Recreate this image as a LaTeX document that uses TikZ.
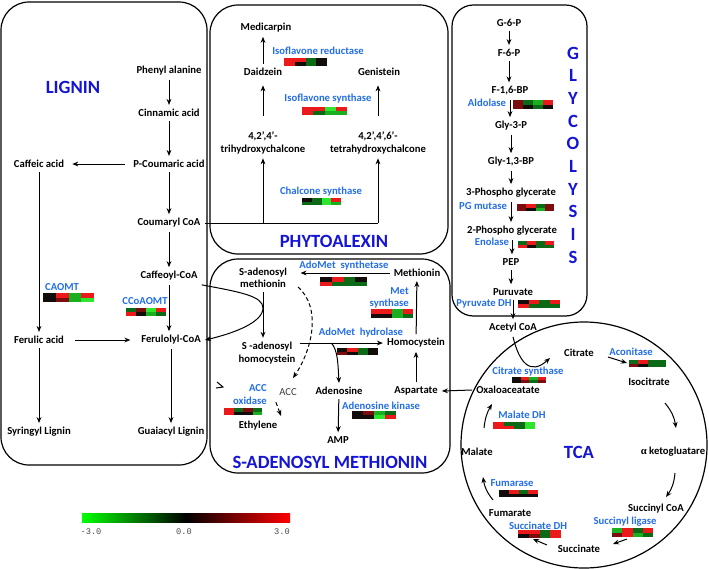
\documentclass[tikz,border=0pt]{standalone}
\usepackage{fontspec}
\setmainfont{Carlito}
\newfontfamily\greekserif{Liberation Serif}
\newfontfamily\barmono{Liberation Mono}
\usetikzlibrary{arrows.meta,calc}
\definecolor{hR}{RGB}{235,25,25}
\definecolor{hDR}{RGB}{125,12,12}
\definecolor{hK}{RGB}{18,12,10}
\definecolor{hG}{RGB}{25,175,30}
\definecolor{hDG}{RGB}{12,105,22}
\definecolor{hLG}{RGB}{45,230,45}
\definecolor{enzblue}{RGB}{35,110,230}
\definecolor{ttlblue}{RGB}{20,20,215}
\newcommand\hmap[6]{%
  \foreach \cc [count=\ii from 0] in {#5} {\fill[fill=\cc] ({#1+\ii*#3/4},{#2}) rectangle ({#1+(\ii+1)*#3/4},{#2+#4/2});}%
  \foreach \cc [count=\ii from 0] in {#6} {\fill[fill=\cc] ({#1+\ii*#3/4},{#2+#4/2}) rectangle ({#1+(\ii+1)*#3/4},{#2+#4});}%
}
\tikzset{
  mtb/.style={font=\bfseries\fontsize{8}{9.5}\selectfont, align=center, inner sep=3pt},
  enz/.style={font=\bfseries\fontsize{8}{9}\selectfont, text=enzblue, inner sep=0pt, align=center},
  arr/.style={-{Stealth[length=4.5pt,width=3.6pt]}, line width=0.75pt},
  panel/.style={draw, line width=0.9pt, rounded corners=21pt},
  ttl/.style={font=\bfseries\fontsize{14}{16}\selectfont, text=ttlblue, inner sep=0pt},
  dsh/.style={dash pattern=on 3pt off 2pt},
}
\begin{document}
\begin{tikzpicture}[x=0.75pt,y=-0.75pt]
\useasboundingbox (0,0) rectangle (709,568);

% ---------- panels ----------
\draw[panel] (1,2) rectangle (207,465);
\draw[panel] (210,5) rectangle (448,254);
\draw[panel] (210,259) rectangle (450,473);
\draw[panel, rounded corners=16pt] (452,5) rectangle (587,316);
\draw[line width=0.9pt] (584,445) circle (123);

% ---------- titles ----------
\node[ttl] (tlig) at (73,87) {LIGNIN};
\node[ttl] (tphy) at (334,241) {PHYTOALEXIN};
\node[ttl] (tsam) at (330,462) {S-ADENOSYL METHIONIN};
\node[ttl] (ttca) at (579,452) {TCA};
\foreach \ch [count=\k from 0] in {G,L,Y,C,O,L,Y,S,I,S}
  \node[ttl] (tg\k) at (573,{53+\k*22.7}) {\ch};

% ---------- LIGNIN ----------
\node[mtb] (phe) at (169,71) {Phenyl alanine};
\node[mtb] (cin) at (169,113) {Cinnamic acid};
\node[mtb] (pcou) at (169,164) {P-Coumaric acid};
\node[mtb] (caf) at (39,164) {Caffeic acid};
\node[mtb] (cou) at (169,223) {Coumaryl CoA};
\node[mtb] (cafc) at (169,276) {Caffeoyl-CoA};
\node[mtb] (fer) at (39,340) {Ferulic acid};
\node[mtb] (ferc) at (171,340) {Ferulolyl-CoA};
\node[mtb] (syr) at (39,432) {Syringyl Lignin};
\node[mtb] (gua) at (171,432) {Guaiacyl Lignin};
\draw[arr] (phe) -- (cin);
\draw[arr] (cin) -- (pcou);
\draw[arr, shorten <=3pt, shorten >=3pt] (pcou) -- (caf);
\draw[arr] (pcou) -- (cou);
\draw[arr] (cou) -- (cafc);
\draw[arr] (caf) -- (fer);
\draw[arr] (cafc.south) -- (cafc.south |- ferc.north);
\draw[arr, shorten <=5pt, shorten >=5pt] (fer) -- (ferc);
\draw[arr] (fer) -- (syr);
\draw[arr] (ferc) -- (gua);
\node[enz] (caomt) at (62,287) {CAOMT};
\hmap{43}{293}{51}{9}{hK,hR,hG,hR}{hK,hDR,hG,hLG}
\node[enz] (ccoaomt) at (145,301) {CCoAOMT};
\hmap{126}{308}{40}{8}{hDG,hDR,hLG,hR}{hR,hK,hG,hDG}

% ---------- PHYTOALEXIN ----------
\node[mtb] (med) at (266,28) {Medicarpin};
\node[mtb] (dai) at (263,72) {Daidzein};
\node[mtb] (gen) at (379,72) {Genistein};
\node[mtb] (tri) at (263,143) {4,2',4'-\\trihydroxychalcone};
\node[mtb] (tet) at (378,143) {4,2',4',6'-\\tetrahydroxychalcone};
\draw[arr] (dai.north) -- (dai.north |- med.south);
\draw[arr, shorten <=9pt, shorten >=4pt] (tri.north) -- (tri.north |- dai.south);
\draw[arr, shorten <=9pt, shorten >=4pt] (tet.north) -- (tet.north |- gen.south);
\coordinate (jt) at (tri.south |- cou.east);
\coordinate (jr) at (tet.south |- cou.east);
\draw[line width=0.75pt] (cou.east) -- (jr);
\draw[arr] (jt) -- (tri.south);
\draw[arr] (jr) -- (tet.south);
\node[enz] (ifr) at (318,51) {Isoflavone reductase};
\hmap{284}{58}{43}{8}{hR,hR,hDG,hK}{hR,hK,hDG,hK}
\node[enz] (ifs) at (328,99) {Isoflavone synthase};
\hmap{302}{107}{45}{8}{hR,hR,hLG,hR}{hR,hDG,hG,hG}
\node[enz] (chs) at (321,192) {Chalcone synthase};
\hmap{302}{198}{39}{7}{hK,hDG,hLG,hR}{hDG,hDG,hLG,hG}

% ---------- S-ADENOSYL METHIONIN ----------
\node[mtb, font=\bfseries\fontsize{8}{9}\selectfont] (sam) at (263,278) {S-adenosyl\\methionin};
\node[mtb, font=\bfseries\fontsize{8}{9.5}\selectfont] (sah) at (267,353) {S -adenosyl\\homocystein};
\node[mtb] (met) at (417,273) {Methionin};
\node[mtb] (hcy) at (416,343) {Homocystein};
\node[mtb] (ado) at (339,391) {Adenosine};
\node[mtb] (asp) at (416,391) {Aspartate};
\node[mtb] (amp) at (338,440) {AMP};
\node[mtb, font=\fontsize{8}{9.5}\selectfont, text=black!75] (acc) at (288,392) {ACC};
\node[mtb] (eth) at (258,426) {Ethylene};
\draw[arr, shorten >=7pt] (met.west) -- (met.west -| sam.east);
\draw[arr] (sam.south) -- (sam.south |- sah.north);
\coordinate (sahout) at (sah.east |- hcy.west);
\draw[arr] (sahout) -- (hcy.west);
\coordinate (brk) at ($(sahout)!0.38!(hcy.west)$);
\draw[arr] (brk) .. controls (338,350) and (338,365) .. (ado.north);
\draw[arr] (hcy) -- (met);
\draw[arr] (asp) -- (hcy);
\draw[arr] (ado) -- (amp);
\coordinate (samd) at (298,287);
\coordinate (accin) at (293,378);
\draw[arr, dsh] (samd) .. controls (322,308) and (312,350) .. (accin);
\draw[arr, dsh, shorten <=2pt, shorten >=1pt] (acc.south west) -- (eth.north east);
\draw[arr] (cafc.south east) .. controls (240,292) and (263,296) .. (263,308)
   .. controls (263,322) and (235,333) .. (ferc.east);
\draw[line width=0.75pt] (217,382) -- (223,387) -- (216,388);
\node[enz] (adosyn) at (344,266) {AdoMet~ synthetase};
\hmap{320}{277}{47}{9}{hK,hR,hDG,hK}{hR,hDG,hDG,hDG}
\node[enz, align=right, anchor=east] (metsyn) at (409,298) {Met\\synthase};
\hmap{371}{309}{42}{9}{hR,hR,hG,hR}{hK,hK,hG,hDG}
\node[enz] (adohyd) at (361,333) {AdoMet~ hydrolase};
\hmap{337}{348}{41}{7}{hK,hR,hDG,hK}{hDR,hK,hDG,hK}
\node[enz, align=right, anchor=east, font=\bfseries\fontsize{8}{9.75}\selectfont] (accox) at (267,395) {ACC\\oxidase};
\hmap{224}{408}{38}{7}{hR,hDG,hDR,hDG}{hR,hK,hK,hG}
\node[enz] (adok) at (381,406) {Adenosine kinase};
\hmap{352}{411}{44}{8}{hK,hDR,hG,hDG}{hK,hK,hLG,hR}

% ---------- GLYCOLYSIS ----------
\node[mtb] (g6p) at (509,23) {G-6-P};
\node[mtb] (f6p) at (509,53) {F-6-P};
\node[mtb] (f16) at (510,91) {F-1,6-BP};
\node[mtb] (g3p) at (511,126) {Gly-3-P};
\node[mtb] (g13) at (511,162) {Gly-1,3-BP};
\node[mtb] (pg3) at (511,193) {3-Phospho glycerate};
\node[mtb] (pg2) at (512,231) {2-Phospho glycerate};
\node[mtb] (pep) at (511,262) {PEP};
\node[mtb] (pyr) at (513,292) {Puruvate};
\foreach \a/\b in {g6p/f6p,f6p/f16,f16/g3p,g3p/g13,g13/pg3,pg3/pg2,pg2/pep,pep/pyr}
  \draw[arr] (\a.south) -- (\a.south |- \b.north);
\node[enz] (ald) at (487,103) {Aldolase};
\hmap{513}{100}{40}{9}{hDR,hDG,hG,hR}{hDR,hK,hDG,hK}
\node[enz] (pgm) at (483,206) {PG mutase};
\hmap{517}{204}{37}{7}{hDR,hR,hDG,hDR}{hDR,hK,hG,hDR}
\node[enz] (eno) at (492,242) {Enolase};
\hmap{518}{241}{36}{7}{hDG,hR,hDG,hR}{hR,hK,hDG,hDG}
\node[enz] (pdh) at (484,304) {Pyruvate DH};
\hmap{518}{300}{42}{8}{hK,hR,hDG,hR}{hR,hDG,hDG,hDG}

% ---------- TCA ----------
\node[mtb] (acoa) at (513,328) {Acetyl CoA};
\node[mtb] (cit) at (579,353) {Citrate};
\node[mtb] (iso) at (649,382) {Isocitrate};
\node[mtb] (akg) at (673,452) {{\greekserif α} ketogluatare};
\node[mtb] (scoa) at (656,509) {Succinyl CoA};
\node[mtb] (suc) at (579,549) {Succinate};
\node[mtb] (fum) at (510,513) {Fumarate};
\node[mtb] (mal) at (477,452) {Malate};
\node[mtb] (oaa) at (508,390) {Oxaloaceatate};
\draw[arr] (pyr.south) -- (pyr.south |- acoa.north);
\draw[arr] (acoa.south) .. controls (519,362) and (530,376) .. (550,358);
\draw[arr] (oaa.west) -- (asp.east);
\coordinate (c1s) at (608,357); \coordinate (c1e) at (627,363);
\coordinate (c2s) at (665,403); \coordinate (c2e) at (676,428);
\coordinate (c3s) at (675,473); \coordinate (c3e) at (666,497);
\coordinate (c4s) at (627,539); \coordinate (c4e) at (613,544);
\coordinate (c5s) at (547,545); \coordinate (c5e) at (533,539);
\coordinate (c6s) at (493,500); \coordinate (c6e) at (483,477);
\coordinate (c7s) at (484,428); \coordinate (c7e) at (492,404);
\draw[arr] (c1s) -- (c1e);
\draw[arr] (c2s) to[bend left=15] (c2e);
\draw[arr] (c3s) to[bend left=15] (c3e);
\draw[arr] (c4s) -- (c4e);
\draw[arr] (c5s) -- (c5e);
\draw[arr] (c6s) to[bend left=15] (c6e);
\draw[arr] (c7s) to[bend left=12] (c7e);
\node[enz] (cs) at (528,372) {Citrate synthase};
\hmap{512}{377}{34}{6}{hK,hR,hG,hR}{hK,hDR,hDG,hDR}
\node[enz] (aco) at (631,352) {Aconitase};
\hmap{629}{360}{37}{7}{hDG,hR,hDG,hDG}{hDR,hK,hDG,hDG}
\node[enz] (mdh) at (522,415) {Malate DH};
\hmap{493}{422}{42}{7}{hR,hDG,hDG,hLG}{hR,hR,hDG,hLG}
\node[enz] (fumase) at (512,483) {Fumarase};
\hmap{499}{490}{39}{7}{hK,hR,hDG,hR}{hK,hK,hK,hK}
\node[enz] (sdh) at (538,526) {Succinate DH};
\hmap{518}{530}{43}{8}{hR,hR,hDG,hR}{hK,hDR,hDG,hR}
\node[enz] (scl) at (625,522) {Succinyl ligase};
\hmap{612}{528}{41}{9}{hG,hR,hDG,hR}{hDR,hR,hG,hDG}

% ---------- colour bar ----------
\shade[left color={rgb,255:red,0;green,255;blue,0}, right color={rgb,255:red,255;green,0;blue,0}, middle color=black] (82,513) rectangle (290,522);
\node[font=\barmono\fontsize{6.5}{8}\selectfont, text=black!70, inner sep=0pt] (lm) at (91,532) {-3.0};
\node[font=\barmono\fontsize{6.5}{8}\selectfont, text=black!70, inner sep=0pt] (l0) at (184,532) {0.0};
\node[font=\barmono\fontsize{6.5}{8}\selectfont, text=black!70, inner sep=0pt] (lp) at (282,532) {3.0};
\end{tikzpicture}
\end{document}
